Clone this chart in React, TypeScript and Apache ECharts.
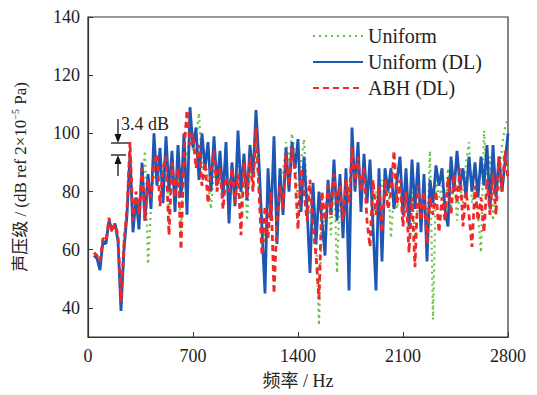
import React, { useEffect, useRef } from "react";
import * as echarts from "echarts";

const freqs = [
  40, 60, 80, 100, 120, 140, 160, 180, 200, 220, 240, 260, 280, 300, 320, 340, 360, 380, 400, 420,
  440, 460, 480, 500, 520, 540, 560, 580, 600, 620, 640, 660, 680, 700, 720, 740, 760, 780, 800, 820,
  840, 860, 880, 900, 920, 940, 960, 980, 1000, 1020, 1040, 1060, 1080, 1100, 1120, 1140, 1160, 1180, 1200, 1220,
  1240, 1260, 1280, 1300, 1320, 1340, 1360, 1380, 1400, 1420, 1440, 1460, 1480, 1500, 1520, 1540, 1560, 1580, 1600, 1620,
  1640, 1660, 1680, 1700, 1720, 1740, 1760, 1780, 1800, 1820, 1840, 1860, 1880, 1900, 1920, 1940, 1960, 1980, 2000, 2020,
  2040, 2060, 2080, 2100, 2120, 2140, 2160, 2180, 2200, 2220, 2240, 2260, 2280, 2300, 2320, 2340, 2360, 2380, 2400, 2420,
  2440, 2460, 2480, 2500, 2520, 2540, 2560, 2580, 2600, 2620, 2640, 2660, 2680, 2700, 2720, 2740, 2760, 2780, 2800,
];

const uniformDL = [
  58, 57, 53, 63, 62, 70, 67, 69, 63, 39, 60, 72, 93, 66, 78, 67, 90, 70, 86, 74,
  100, 82, 95, 76, 99, 80, 94, 73, 96, 78, 100, 72, 109, 95, 102, 84, 100, 88, 97, 80,
  99, 82, 94, 78, 97, 69, 90, 75, 101, 80, 93, 77, 96, 85, 108, 90, 67, 45, 88, 70,
  99, 62, 88, 72, 95, 80, 97, 88, 98, 73, 92, 75, 52, 83, 62, 80, 70, 58, 84, 72,
  91, 70, 86, 64, 88, 46, 102, 80, 97, 73, 93, 76, 91, 68, 46, 88, 56, 88, 80, 88,
  74, 84, 92, 72, 88, 68, 91, 74, 90, 66, 86, 56, 84, 76, 89, 82, 88, 74, 68, 92,
  80, 94, 82, 88, 78, 92, 80, 90, 78, 92, 82, 96, 74, 96, 78, 92, 80, 90, 100,
];

const abhDL = [
  59, 58, 56, 64, 63, 71, 66, 69, 65, 42, 62, 74, 97, 70, 80, 72, 88, 70, 84, 78,
  90, 93, 75, 88, 92, 65, 90, 78, 88, 60, 94, 108, 96, 100, 88, 96, 82, 90, 76, 88,
  94, 80, 88, 74, 85, 80, 88, 76, 86, 65, 90, 78, 92, 80, 102, 80, 58, 75, 64, 80,
  45, 70, 82, 74, 93, 82, 95, 86, 67, 88, 80, 70, 84, 68, 58, 43, 80, 70, 82, 72,
  86, 76, 82, 70, 84, 76, 95, 82, 92, 80, 88, 70, 61, 84, 72, 82, 66, 84, 74, 80,
  94, 76, 84, 68, 80, 59, 78, 54, 82, 70, 80, 62, 78, 72, 80, 66, 78, 70, 85, 72,
  86, 76, 88, 68, 80, 72, 61, 82, 70, 78, 66, 84, 72, 86, 72, 92, 80, 94, 84,
];

const uniform = [
  59, 58, 55, 63, 63, 70, 67, 69, 64, 44, 65, 73, 92, 72, 78, 75, 82, 94, 55, 75,
  88, 82, 92, 78, 90, 72, 92, 80, 88, 66, 96, 92, 100, 94, 98, 107, 88, 92, 84, 74,
  88, 80, 90, 80, 88, 76, 90, 80, 94, 76, 92, 70, 88, 82, 96, 80, 72, 62, 80, 76,
  88, 68, 88, 86, 97, 90, 100, 92, 74, 90, 98, 80, 72, 80, 66, 34, 76, 68, 82, 65,
  86, 52, 80, 72, 84, 78, 92, 86, 90, 84, 88, 78, 86, 70, 80, 76, 84, 78, 84, 64,
  80, 74, 82, 76, 84, 70, 80, 64, 76, 72, 80, 66, 94, 36, 84, 78, 82, 70, 88, 74,
  86, 70, 82, 76, 90, 97, 76, 82, 72, 59, 101, 82, 92, 70, 84, 80, 96, 102, 105,
];

const seriesNames = ["Uniform", "Uniform (DL)", "ABH (DL)"];
const xTicks = [0, 700, 1400, 2100, 2800];
const yTicks = [40, 60, 80, 100, 120, 140];
const annotationText = "3.4 dB";

const FONT = "Liberation Serif, Times New Roman, serif";
const CJK = "Liberation Serif, Noto Sans CJK SC, serif";

export default function App() {
  const ref = useRef<HTMLDivElement>(null);
  useEffect(() => {
    if (!ref.current) return;
    const chart = echarts.init(ref.current, undefined, { renderer: "svg" });
    const pair = (vals: number[]) => freqs.map((f, i) => [f, vals[i]]);
    chart.setOption({
      animation: false,
      backgroundColor: "#fff",
      textStyle: { fontFamily: FONT, color: "#222" },
      grid: {
        left: 88,
        right: 29,
        top: 17,
        bottom: 58,
        show: true,
        borderColor: "#333",
        borderWidth: 1.2,
      },
      legend: {
        orient: "vertical",
        left: 307,
        top: 21,
        itemWidth: 50,
        itemHeight: 14,
        itemGap: 6,
        itemStyle: { opacity: 0 },
        textStyle: { fontFamily: FONT, fontSize: 20, color: "#222" },
        data: seriesNames,
      },
      xAxis: {
        type: "value",
        min: 0,
        max: 2800,
        interval: 700,
        name: "频率 / Hz",
        nameLocation: "middle",
        nameGap: 35,
        nameTextStyle: { fontFamily: CJK, fontSize: 18, color: "#222" },
        axisLine: { lineStyle: { color: "#333", width: 1.2 } },
        axisTick: { inside: true, length: 5, lineStyle: { color: "#333" } },
        axisLabel: {
          fontFamily: FONT,
          fontSize: 18,
          color: "#222",
          margin: 10,
          customValues: xTicks,
          formatter: (v: number) => String(v),
        },
        splitLine: { show: false },
      },
      yAxis: {
        type: "value",
        min: 30,
        max: 140,
        name: "{a|声压级 / (dB ref 2×10}{s|−5}{a| Pa)}",
        nameLocation: "middle",
        nameGap: 58,
        nameRotate: 90,
        nameTextStyle: {
          rich: {
            a: { fontFamily: CJK, fontSize: 17, color: "#222" },
            s: { fontFamily: FONT, fontSize: 10, color: "#222", verticalAlign: "top", padding: [0, 0, 10, 0] },
          },
        },
        axisLine: { show: true, lineStyle: { color: "#333", width: 1.2 } },
        axisTick: { show: true, inside: true, length: 5, lineStyle: { color: "#333" }, customValues: yTicks },
        axisLabel: {
          fontFamily: FONT,
          fontSize: 18,
          color: "#222",
          margin: 8,
          customValues: yTicks,
          formatter: (v: number) => String(v),
        },
        splitLine: { show: false },
      },
      series: [
        {
          name: seriesNames[0],
          type: "line",
          data: pair(uniform),
          showSymbol: false,
          symbol: "none",
          lineStyle: { color: "#66c341", width: 2.2, type: [2, 4] },
          itemStyle: { color: "#66c341" },
        },
        {
          name: seriesNames[1],
          type: "line",
          data: pair(uniformDL),
          showSymbol: false,
          symbol: "none",
          lineStyle: { color: "#1d56b3", width: 2.8, type: "solid" },
          itemStyle: { color: "#1d56b3" },
        },
        {
          name: seriesNames[2],
          type: "line",
          data: pair(abhDL),
          showSymbol: false,
          symbol: "none",
          lineStyle: { color: "#f0282a", width: 2.8, type: [6, 4] },
          itemStyle: { color: "#f0282a" },
        },
      ],
      graphic: [
        { type: "line", shape: { x1: 111, y1: 143, x2: 131, y2: 143 }, style: { stroke: "#111", lineWidth: 1.3 } },
        { type: "line", shape: { x1: 111, y1: 155, x2: 126, y2: 155 }, style: { stroke: "#111", lineWidth: 1.3 } },
        { type: "line", shape: { x1: 118, y1: 119, x2: 118, y2: 137 }, style: { stroke: "#111", lineWidth: 1.3 } },
        { type: "polygon", shape: { points: [[114.5, 134], [121.5, 134], [118, 143]] }, style: { fill: "#111" } },
        { type: "line", shape: { x1: 118, y1: 161, x2: 118, y2: 176 }, style: { stroke: "#111", lineWidth: 1.3 } },
        { type: "polygon", shape: { points: [[114.5, 164], [121.5, 164], [118, 155]] }, style: { fill: "#111" } },
        {
          type: "text",
          x: 121,
          y: 115,
          style: { text: annotationText, fontFamily: FONT, fontSize: 18, fill: "#222" },
        },
      ],
    });
    return () => chart.dispose();
  }, []);
  return (
    <div
      ref={ref}
      style={{ position: "absolute", left: 0, top: 0, width: 537, height: 395 }}
    />
  );
}
